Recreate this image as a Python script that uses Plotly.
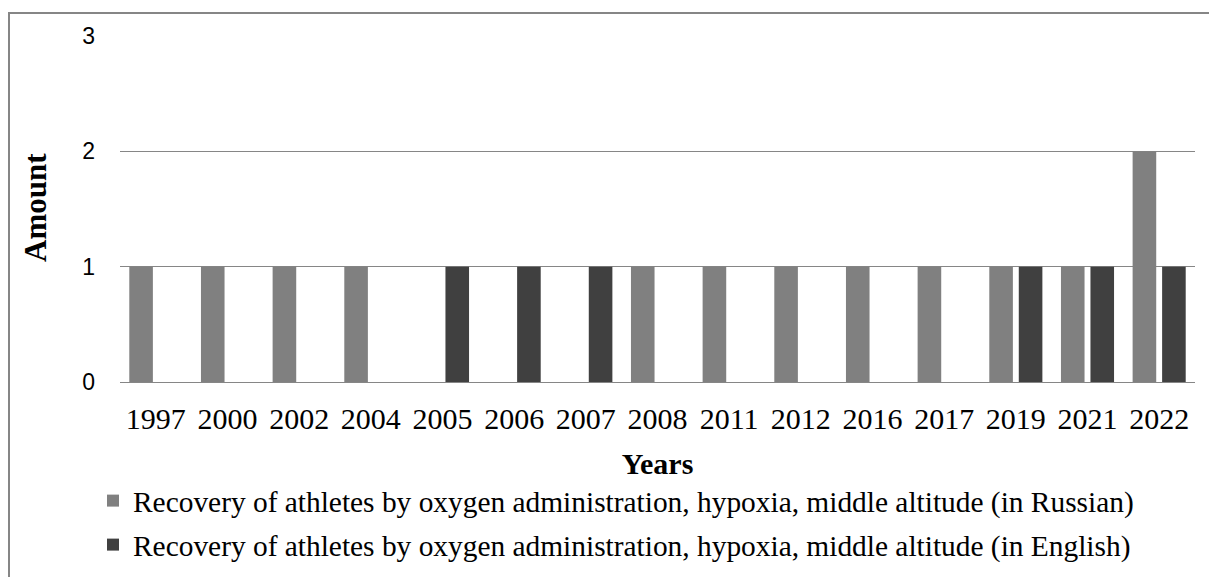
import plotly.graph_objects as go

# Publication years on the category axis
years = ["1997", "2000", "2002", "2004", "2005", "2006", "2007", "2008",
         "2011", "2012", "2016", "2017", "2019", "2021", "2022"]

# Number of publications per year
russian = [1, 1, 1, 1, 0, 0, 0, 1, 1, 1, 1, 1, 1, 1, 2]
english = [0, 0, 0, 0, 1, 1, 1, 0, 0, 0, 0, 0, 1, 1, 1]

name_ru = "Recovery of athletes by oxygen administration, hypoxia, middle altitude (in Russian)"
name_en = "Recovery of athletes by oxygen administration, hypoxia, middle altitude (in English)"

W, H = 1209, 577
L, R, T, B = 120, 14, 36, 195
pw, ph = W - L - R, H - T - B


def px_x(px):
    return (px - L) / pw


def px_y(py):
    return (H - B - py) / ph


serif = "Liberation Serif"
sans = "Liberation Sans"
grid = "#868686"

fig = go.Figure()
fig.add_trace(go.Bar(x=years, y=russian, name=name_ru,
                     marker=dict(color="#808080", line=dict(width=0)),
                     legend="legend"))
fig.add_trace(go.Bar(x=years, y=english, name=name_en,
                     marker=dict(color="#404040", line=dict(width=0)),
                     legend="legend2"))

legend_common = dict(
    font=dict(family=serif, size=29.4, color="#000000"),
    bgcolor="rgba(0,0,0,0)",
    xref="container", yref="container",
    xanchor="left", yanchor="middle",
    itemwidth=30,
)

fig.update_layout(
    width=W, height=H,
    margin=dict(l=L, r=R, t=T, b=B, pad=0, autoexpand=False),
    paper_bgcolor="#ffffff",
    plot_bgcolor="#ffffff",
    barmode="group",
    bargap=0.177,
    bargroupgap=0.2,
    showlegend=True,
    legend=dict(x=93 / W, y=1 - 501 / H, **legend_common),
    legend2=dict(x=93 / W, y=1 - 545 / H, **legend_common),
    xaxis=dict(
        type="category",
        tickfont=dict(family=serif, size=30, color="#000000"),
        ticklabelstandoff=10,
        showgrid=False,
        showline=True, linecolor=grid, linewidth=1,
        ticks="",
        title=dict(text="<b>Years</b>", font=dict(family=serif, size=30, color="#000000"),
                   standoff=18),
    ),
    yaxis=dict(
        range=[0, 3],
        dtick=1,
        tickfont=dict(family=sans, size=23, color="#000000"),
        ticklabelstandoff=24,
        showgrid=True, gridcolor=grid, gridwidth=1,
        zeroline=True, zerolinecolor=grid, zerolinewidth=1,
        showline=False,
        ticks="",
    ),
    annotations=[dict(
        text="<b>Amount</b>", textangle=-90, showarrow=False,
        xref="paper", yref="paper", x=px_x(35), y=px_y(208),
        xanchor="center", yanchor="middle",
        font=dict(family=serif, size=31, color="#000000"),
    )],
    shapes=[dict(
        type="rect", xref="paper", yref="paper",
        x0=px_x(9), x1=px_x(1230), y0=px_y(600), y1=px_y(13),
        line=dict(color=grid, width=2), fillcolor="rgba(0,0,0,0)",
        layer="below",
    )],
)

fig.write_html("out.html")
